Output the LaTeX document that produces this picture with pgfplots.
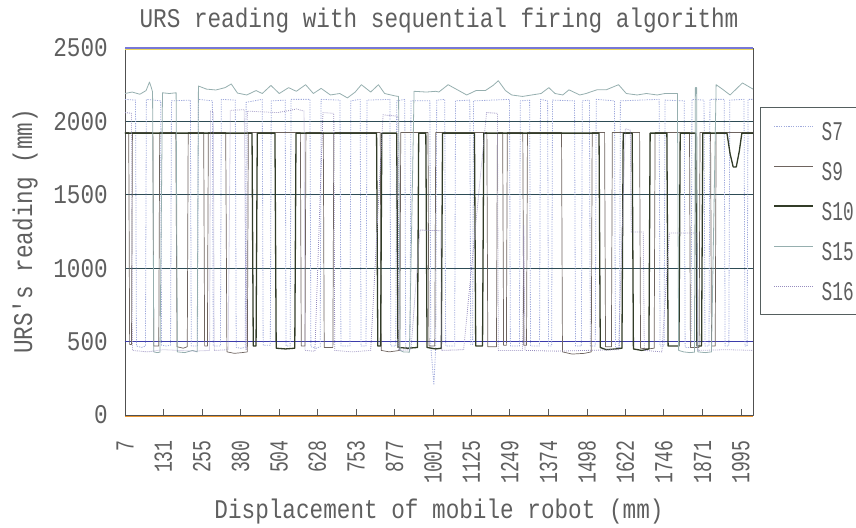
\documentclass[border=0pt]{standalone}
\usepackage{fontspec}
\usepackage{pgfplots}
\pgfplotsset{compat=1.18}
\newfontfamily\chartfont[FakeStretch=0.84]{Liberation Mono}
\newfontfamily\xtfont[FakeStretch=0.7]{Liberation Mono}
\newfontfamily\legfont[FakeStretch=0.66]{Liberation Mono}
\newcommand\cf{\chartfont\fontsize{27}{30}\selectfont}
\newcommand\xf{\xtfont\fontsize{26}{28}\selectfont}
\newcommand\lf{\legfont\fontsize{27}{30}\selectfont}
\definecolor{txt}{RGB}{95,95,95}
\definecolor{gridc}{RGB}{45,75,85}
\definecolor{gridb}{RGB}{60,60,170}
\definecolor{axc}{RGB}{80,80,80}
\definecolor{tickc}{RGB}{90,90,90}
\definecolor{legc}{RGB}{85,95,95}
\definecolor{cS7}{RGB}{160,170,220}
\definecolor{cS9}{RGB}{110,100,95}
\definecolor{cS10}{RGB}{50,60,40}
\definecolor{cS15}{RGB}{150,175,175}
\definecolor{cS16}{RGB}{150,140,190}
\definecolor{topc}{RGB}{120,120,215}
\definecolor{topy}{RGB}{235,215,90}
\definecolor{botc}{RGB}{235,150,50}
\begin{document}
\begin{tikzpicture}
\begin{axis}[
  scale only axis, width=628pt, height=367pt,
  xmin=7, xmax=2034, ymin=0, ymax=2500,
  ytick={0,500,...,2500},
  xtick={7,131,255,380,504,628,753,877,1001,1125,1249,1374,1498,1622,1746,1871,1995},
  xticklabels={7,131,255,380,504,628,753,877,1001,1125,1249,1374,1498,1622,1746,1871,1995},
  minor x tick num=29,
  xtick pos=bottom,
  ytick style={draw=none},
  major tick length=6pt, minor tick length=4pt,
  every tick/.style={draw=tickc, line width=0.6pt},
  /pgf/number format/1000 sep={},
  /pgf/number format/assume math mode=true,
  yticklabel style={font=\cf, text=txt, inner sep=0pt, xshift=-17pt},
  xticklabel style={font=\xf, text=txt, inner sep=0pt, yshift=-25pt, rotate=90, anchor=east},
  ymajorgrids,
  major grid style={draw=gridc, line width=0.8pt},
  extra y ticks={500}, extra y tick labels={},
  extra y tick style={grid=major, major grid style={draw=gridb, line width=0.9pt}},
  axis line style={draw=axc, line width=0.9pt},
  title={URS reading with sequential firing algorithm},
  every axis title/.style={font=\cf, text=txt, at={(axis description cs:0.5,1)}, anchor=base, yshift=20pt},
  xlabel={Displacement of mobile robot (mm)},
  every axis x label/.style={font=\cf, text=txt, at={(axis description cs:0.5,0)}, anchor=base, yshift=-103pt},
  ylabel={URS's reading (mm)},
  every axis y label/.style={font=\cf, text=txt, at={(axis description cs:-0.159,0.5)}, anchor=center, rotate=90},
  legend style={at={(1,1)}, anchor=north west, xshift=7pt, yshift=-59pt, draw=legc, line width=0.8pt, fill=white,
    font=\lf, text=txt, inner xsep=13pt, inner ysep=13pt, row sep=19pt, column sep=8pt,
    nodes={inner sep=0pt, text height=20pt, text depth=1pt}},
  legend cell align=left,
  legend image code/.code={\draw[#1] (0pt,5pt) -- (39pt,5pt);},
  line join=round,
]
\addplot[cS7, line width=0.8pt, dash pattern=on 1.2pt off 1.2pt] coordinates {
(7,2150) (41,2145) (44,470) (60,460) (73,470) (76,2150) (122,2140) (125,475) (140,470) (154,475) (157,2140) (218,2145) (221,470) (241,470) (244,2150) (289,2140) (292,470) (315,470) (318,2150) (363,2145) (366,460) (380,455) (395,460) (398,2130) (450,2150) (453,475) (476,475) (479,2140) (524,2145) (527,470) (540,470) (543,2150) (604,2150) (607,465) (625,455) (637,465) (640,2150) (701,2145) (704,470) (733,470) (736,2140) (766,2150) (769,470) (785,470) (788,2145) (862,2150) (865,470) (881,470) (884,2140) (910,2150) (913,460) (927,460) (930,2140) (991,2140) (994,470) (1004,204) (1010,470) (1013,2145) (1039,2150) (1042,470) (1071,470) (1074,2140) (1120,2145) (1123,480) (1129,480) (1132,2140) (1248,2150) (1251,470) (1280,470) (1283,2140) (1313,2145) (1316,470) (1345,470) (1348,2150) (1371,2140) (1374,470) (1384,470) (1387,2145) (1458,2140) (1461,470) (1480,470) (1483,2140) (1506,2145) (1509,470) (1525,470) (1528,2150) (1587,2140) (1590,460) (1603,460) (1606,2140) (1731,2150) (1734,470) (1747,470) (1750,2145) (1812,2140) (1815,460) (1834,460) (1837,2150) (1876,2145) (1879,470) (1892,470) (1895,2150) (1941,2150) (1944,470) (1956,470) (1959,2145) (2005,2150) (2008,470) (2015,470) (2018,2150) (2034,2150)
};
\addlegendentry{S7}
\addplot[cS9, line width=0.7pt] coordinates {
(7,1925) (19,1925) (22,480) (28,480) (31,1925) (97,1925) (100,470) (116,470) (119,1925) (171,1925) (175,465) (195,455) (208,465) (211,1925) (261,1925) (264,470) (273,470) (276,1925) (332,1925) (336,430) (360,420) (385,425) (402,430) (405,1925) (573,1925) (576,470) (588,470) (591,1925) (647,1925) (650,460) (678,460) (681,1925) (831,1925) (834,440) (860,430) (894,440) (897,1925) (985,1925) (988,470) (1007,470) (1010,1925) (1175,1925) (1178,465) (1206,465) (1209,1925) (1226,1925) (1229,475) (1238,475) (1241,1925) (1291,1925) (1294,475) (1303,475) (1306,1925) (1416,1925) (1419,430) (1450,415) (1490,420) (1512,430) (1515,1925) (1555,1925) (1558,465) (1577,465) (1580,1925) (1668,1925) (1671,455) (1695,450) (1715,455) (1718,1925) (1829,1925) (1832,460) (1860,460) (1863,1925) (1897,1925) (1900,470) (1912,470) (1915,1925) (2034,1925)
};
\addlegendentry{S9}
\addplot[cS10, line width=1.3pt] coordinates {
(7,1920) (417,1920) (421,470) (430,470) (434,1920) (491,1920) (495,455) (525,450) (555,455) (559,1920) (819,1920) (823,470) (832,470) (836,1920) (884,1920) (888,460) (920,455) (951,460) (955,1920) (978,1920) (982,460) (1010,450) (1028,455) (1032,1920) (1135,1920) (1139,470) (1161,470) (1165,1920) (1537,1920) (1541,460) (1560,445) (1590,450) (1611,455) (1615,1920) (1644,1920) (1648,450) (1675,440) (1698,450) (1702,1920) (1756,1920) (1760,470) (1795,470) (1799,1920) (1849,1920) (1853,470) (1868,470) (1872,1920) (1950,1920) (1960,1780) (1970,1690) (1980,1690) (1990,1800) (1998,1920) (2034,1920)
};
\addlegendentry{S10}
\addplot[cS15, line width=0.8pt] coordinates {
(7,2190) (30,2200) (55,2185) (75,2210) (86,2268) (92,2230) (96,2200) (100,430) (110,425) (120,428) (128,2195) (150,2190) (172,2195) (176,430) (200,425) (225,440) (240,430) (244,2241) (270,2220) (300,2214) (330,2230) (350,2255) (370,2193) (400,2180) (430,2210) (450,2190) (478,2245) (505,2190) (535,2230) (560,2205) (590,2250) (615,2190) (640,2225) (670,2180) (700,2190) (725,2160) (750,2200) (770,2250) (800,2200) (825,2250) (845,2190) (880,2173) (890,2170) (895,440) (905,430) (925,428) (940,2205) (980,2200) (1010,2205) (1020,2200) (1050,2250) (1080,2215) (1110,2180) (1140,2210) (1170,2210) (1195,2245) (1212,2277) (1235,2210) (1255,2180) (1290,2170) (1320,2180) (1350,2190) (1375,2230) (1395,2190) (1420,2180) (1440,2215) (1475,2180) (1495,2190) (1530,2215) (1560,2215) (1600,2250) (1625,2190) (1660,2180) (1690,2190) (1725,2180) (1750,2190) (1775,2190) (1790,2190) (1794,440) (1810,430) (1830,425) (1845,428) (1848,2230) (1852,2230) (1856,430) (1880,425) (1900,430) (1915,2250) (1935,2220) (1960,2180) (2000,2262) (2034,2220)
};
\addlegendentry{S15}
\addplot[cS16, line width=0.8pt, dash pattern=on 0.8pt off 1.2pt] coordinates {
(7,2060) (28,2055) (31,440) (80,430) (130,445) (180,440) (230,435) (280,440) (283,2070) (292,2065) (295,440) (340,445) (347,2075) (392,2080) (398,440) (402,2070) (450,2065) (500,2060) (540,2075) (560,2085) (585,2070) (588,440) (620,435) (646,2060) (681,2055) (684,440) (740,430) (800,440) (840,2045) (888,2035) (891,440) (930,445) (959,1260) (1026,1255) (1029,440) (1100,445) (1174,2060) (1209,2055) (1212,440) (1290,440) (1294,1294) (1298,440) (1400,435) (1500,440) (1600,445) (1622,1950) (1638,1940) (1641,1247) (1680,1247) (1683,440) (1740,430) (1764,1240) (1853,1240) (1856,440) (1950,445) (2034,440)
};
\addlegendentry{S16}
\end{axis}
\draw[topc, line width=1.2pt] (current axis.north west) -- (current axis.north east);
\draw[topy, line width=0.8pt] ([yshift=-1.6pt]current axis.north west) -- ([yshift=-1.6pt]current axis.north east);
\draw[botc, line width=1pt] ([yshift=-1.5pt]current axis.south west) -- ([yshift=-1.5pt]current axis.south east);
\pgfresetboundingbox
\path[use as bounding box] (-125pt,-112pt) rectangle (731pt,415pt);
\end{tikzpicture}
\end{document}
